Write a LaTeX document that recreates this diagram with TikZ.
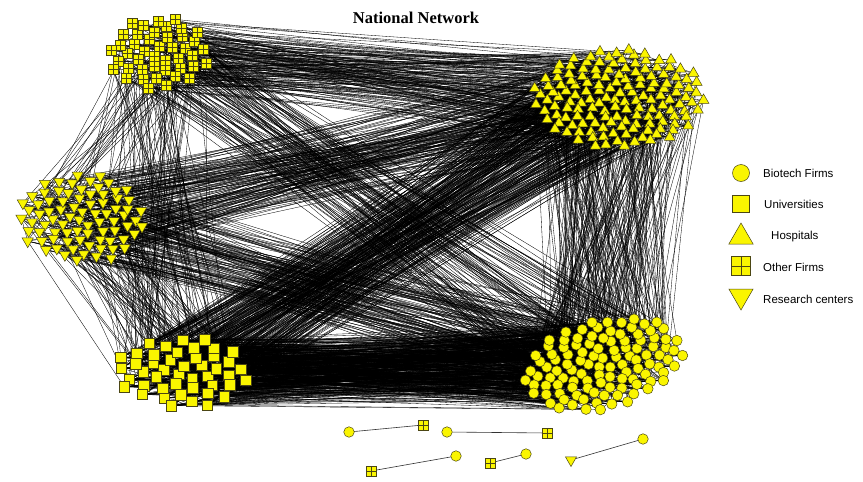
\documentclass[tikz,border=0pt]{standalone}
\usepackage{fontspec}
\setmainfont{Liberation Serif}
\newfontfamily\legendfont{Liberation Sans}
\usetikzlibrary{shapes.geometric}
\pgfdeclarelayer{bglayer}
\pgfdeclarelayer{edgelayer}
\pgfsetlayers{bglayer,edgelayer,main}
\definecolor{vfill}{RGB}{250,245,0}
\definecolor{vline}{RGB}{75,70,20}
\tikzset{
  vtx/.style={draw=vline, fill=vfill, line width=0.5pt, inner sep=0pt, outer sep=0pt},
  biotech/.style={vtx, circle, minimum size=#1},
  biotech/.default=10.5pt,
  univ/.style={vtx, rectangle, minimum size=#1},
  univ/.default=10.5pt,
  hospital/.style={vtx, regular polygon, regular polygon sides=3, minimum size=#1},
  hospital/.default=12.5pt,
  otherfirm/.style={univ=#1, path picture={\draw[vline, line width=0.5pt] (path picture bounding box.north) -- (path picture bounding box.south) (path picture bounding box.west) -- (path picture bounding box.east);}},
  otherfirm/.default=10pt,
  research/.style={hospital=#1, shape border rotate=180},
  research/.default=13pt,
  link/.style={black, line width=0.33pt},
  pairlink/.style={black!80, line width=0.6pt},
  legendtext/.style={anchor=west, font=\legendfont\fontsize{11.5}{13}\selectfont, inner sep=0pt},
}
\newcommand\placecluster[8]{%
  \foreach \k in {1,...,#3}{%
    \pgfmathsetmacro\rr{sqrt((\k-0.5)/#3)}%
    \pgfmathsetmacro\th{360*mod(\k*0.381966,1)}%
    \pgfmathsetmacro\px{#6*\rr*cos(\th)+1.2*rand}%
    \pgfmathsetmacro\py{#7*\rr*sin(\th)+1.2*rand}%
    \node[#2] (#1\k) at ({#4+\px},{#5+\py+#8*\px}) {};
  }%
}
\newcommand\linkclusters[5]{%
  \foreach \e in {1,...,#5}{%
    \pgfmathrandominteger{\linkA}{1}{#2}%
    \pgfmathrandominteger{\linkB}{1}{#4}%
    \draw[link] (#1\linkA.center) -- (#3\linkB.center);
  }%
}
\begin{document}
\begin{tikzpicture}[x=1pt,y=-1pt]
\pgfmathsetseed{4242}
\begin{pgfonlayer}{bglayer}
\fill[white] (0,0) rectangle (863,482);
\end{pgfonlayer}
\useasboundingbox (0,0) rectangle (863,482);

\node[font=\bfseries\fontsize{16.5}{18}\selectfont] (title) at (416,18) {National Network};

% clusters
\placecluster{O}{otherfirm}{44}{158}{53}{51}{37}{0}
\placecluster{H}{hospital}{150}{619}{98}{86}{50}{0}
\placecluster{R}{research}{80}{82}{218}{64}{45}{0}
\placecluster{U}{univ}{46}{183}{372}{68}{36}{0}
\placecluster{B}{biotech}{110}{603}{364}{80}{46}{-0.18}

\begin{pgfonlayer}{edgelayer}
\linkclusters{U}{46}{B}{110}{550}
\linkclusters{H}{150}{U}{46}{260}
\linkclusters{H}{150}{B}{110}{200}
\linkclusters{O}{44}{H}{150}{170}
\linkclusters{R}{80}{H}{150}{150}
\linkclusters{O}{44}{B}{110}{90}
\linkclusters{R}{80}{B}{110}{130}
\linkclusters{O}{44}{U}{46}{50}
\linkclusters{O}{44}{R}{80}{35}
\linkclusters{R}{80}{U}{46}{70}
\linkclusters{H}{150}{H}{150}{220}
\linkclusters{B}{110}{B}{110}{130}
\linkclusters{U}{46}{U}{46}{70}
\linkclusters{R}{80}{R}{80}{70}
\linkclusters{O}{44}{O}{44}{40}
\end{pgfonlayer}

% isolated pairs
\node[biotech] (pa1) at (349,432) {};
\node[otherfirm] (pa2) at (423,425) {};
\node[biotech] (pb1) at (447,432) {};
\node[otherfirm] (pb2) at (547,433) {};
\node[otherfirm] (pc1) at (371,471) {};
\node[biotech] (pc2) at (456,456) {};
\node[otherfirm] (pd1) at (490,463) {};
\node[biotech] (pd2) at (526,454) {};
\node[research] (pe1) at (571,460) {};
\node[biotech] (pe2) at (643,439) {};
\begin{pgfonlayer}{edgelayer}
\draw[pairlink] (pa1) -- (pa2);
\draw[pairlink] (pb1) -- (pb2);
\draw[pairlink] (pc1) -- (pc2);
\draw[pairlink] (pd1) -- (pd2);
\draw[pairlink] (pe1) -- (pe2);
\end{pgfonlayer}

% legend
\node[biotech=17pt] (lg1) at (741,173) {};
\node[legendtext] (lt1) at (763,173) {Biotech Firms};
\node[univ=17pt] (lg2) at (741,204) {};
\node[legendtext] (lt2) at (764,204) {Universities};
\node[hospital=28pt] (lg3) at (741,237) {};
\node[legendtext] (lt3) at (771,237) {Hospitals};
\node[otherfirm=19pt] (lg4) at (741,266) {};
\node[legendtext] (lt4) at (763,267) {Other Firms};
\node[research=28pt] (lg5) at (741,296) {};
\node[legendtext] (lt5) at (763,299) {Research centers};
\end{tikzpicture}
\end{document}
